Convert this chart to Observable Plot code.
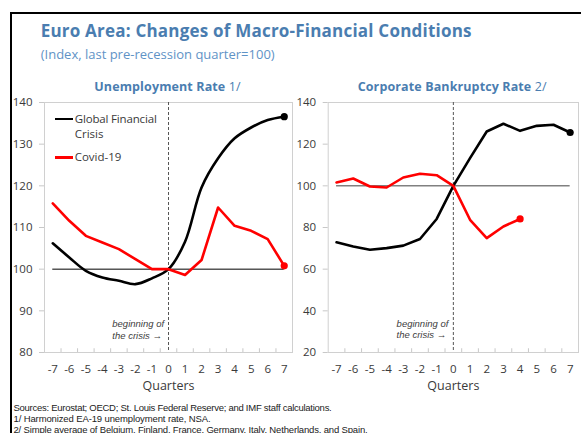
<!DOCTYPE html>
<html><head><meta charset="utf-8">
<script src="https://cdn.jsdelivr.net/npm/d3@7"></script>
<script src="https://cdn.jsdelivr.net/npm/@observablehq/plot@0.6"></script>
<style>
html,body{margin:0;padding:0;background:#fff;}
#wrap{position:relative;width:581px;height:433px;overflow:hidden;font-family:'Open Sans',sans-serif;background:#fff;}
.t{position:absolute;white-space:nowrap;line-height:1;}
.fn{font-family:'Liberation Sans',Arial,sans-serif;font-size:9.5px;color:#222;left:13.5px;}
#border{position:absolute;left:9.5px;top:11.5px;width:700px;height:600px;border-left:2.5px solid #000;border-top:2.5px solid #000;}
.panel{position:absolute;top:80px;}
.leg{position:absolute;height:2.6px;width:18px;}
</style></head><body>
<div id="wrap">
<div id="border"></div>
<div id="p1" class="panel" style="left:0px"></div>
<div id="p2" class="panel" style="left:285px"></div>
<div class="t" id="title" style="left:40.7px;top:21.9px;font-size:17px;font-weight:700;color:#4a7db0">Euro Area: Changes of Macro-Financial Conditions</div>
<div class="t" id="subtitle" style="left:40.7px;top:47.8px;font-size:13px;color:#5f93c6">(Index, last pre-recession quarter=100)</div>
<div class="t" id="pt1" style="top:80.6px;font-size:12.5px;color:#4a7db0"><b>Unemployment Rate</b> 1/</div>
<div class="t" id="pt2" style="top:80.6px;font-size:12.5px;color:#4a7db0"><b>Corporate Bankruptcy Rate</b> 2/</div>
<div class="leg" style="left:55px;top:117.7px;background:#000"></div>
<div class="t" id="lg1" style="left:74.7px;top:112.8px;font-size:11.5px;color:#3a3a3a">Global Financial</div>
<div class="t" id="lg1b" style="left:74.7px;top:127.8px;font-size:11.5px;color:#3a3a3a">Crisis</div>
<div class="leg" style="left:55px;top:156px;background:#ff0000"></div>
<div class="t" id="lg2" style="left:74.7px;top:151.3px;font-size:11.5px;color:#3a3a3a">Covid-19</div>
<div class="t fn" id="fn1" style="top:402.7px">Sources: Eurostat; OECD; St. Louis Federal Reserve; and IMF staff calculations.</div>
<div class="t fn" id="fn2" style="top:413.7px">1/ Harmonized EA-19 unemployment rate, NSA.</div>
<div class="t fn" id="fn3" style="top:424.7px">2/ Simple average of Belgium, Finland, France, Germany, Italy, Netherlands, and Spain.</div>
</div>
<script>
// ---- data ----
const quarters = [-7,-6,-5,-4,-3,-2,-1,0,1,2,3,4,5,6,7];
const unempGFC   = [106.2,102.8,99.6,98.0,97.2,96.4,97.8,100,106.6,119.6,126.6,131.4,134.0,135.8,136.6];
const unempCovid = [115.8,111.6,108.0,106.4,104.8,102.4,100,100,98.6,102.2,114.8,110.4,109.2,107.2,100.8];
const bankGFC    = [72.9,70.9,69.3,70.1,71.3,74.5,84.1,100,113.3,126.1,129.8,126.4,128.8,129.3,125.6];
const bankCovid  = [101.6,103.5,99.7,99.2,104.0,105.8,105.1,100,83.7,74.9,80.5,84.1];
const unempTicks = [80,90,100,110,120,130,140];
const bankTicks  = [20,40,60,80,100,120,140];
const annText = "beginning of\nthe crisis →";
const xLabel = "Quarters";

const halfTicks = quarters.slice(0,-1).map(q => q + 0.5);

function panel({gfc, covid, yDomain, yTicks, baseStroke, baseWidth, annY, width, marginLeft, marginRight, tickLen, gfcCurve}) {
  const g = gfc.map((v,i) => ({q: quarters[i], v}));
  const c = covid.map((v,i) => ({q: quarters[i], v}));
  return Plot.plot({
    width, height: 320, marginLeft, marginRight, marginTop: 22, marginBottom: 48,
    style: {fontFamily: "'Open Sans',sans-serif", fontSize: "11.5px", color: "#3a3a3a", background: "transparent", overflow: "visible"},
    x: {domain: [-7.5, 7.5]},
    y: {domain: yDomain},
    marks: [
      Plot.frame({stroke: "#d0d0d0"}),
      Plot.axisY({ticks: yTicks, tickSize: 5, tickPadding: 7, stroke: "#c8c8c8", fill: "#3a3a3a", label: null}),
      Plot.axisX({ticks: quarters, tickSize: 0, tickPadding: 12, label: null, tickFormat: d => String(d), fill: "#3a3a3a"}),
      Plot.ruleX(halfTicks, {x: d => d, y1: () => yDomain[0], y2: () => yDomain[0] + tickLen, stroke: "#c8c8c8"}),
      Plot.ruleY([100], {x1: () => quarters[0], x2: () => quarters[quarters.length-1], stroke: baseStroke, strokeWidth: baseWidth}),
      Plot.ruleX([0], {stroke: "#555", strokeDasharray: "3,2"}),
      Plot.text([annText], {x: () => -3.4, y: () => annY, text: d => d, textAnchor: "start", lineAnchor: "middle", lineHeight: 1.2, fontStyle: "italic", fontSize: 9.5, fontFamily: "'Liberation Sans',Arial,sans-serif", fill: "#404040"}),
      Plot.line(g, {x: "q", y: "v", stroke: "#000", strokeWidth: 2.6, curve: gfcCurve}),
      Plot.line(c, {x: "q", y: "v", stroke: "#ff0000", strokeWidth: 2.6}),
      Plot.dot([g[g.length-1]], {x: "q", y: "v", fill: "#000", r: 3.6}),
      Plot.dot([c[c.length-1]], {x: "q", y: "v", fill: "#ff0000", r: 3.6}),
      Plot.text([xLabel], {text: d => d, frameAnchor: "bottom", dy: 37, fontSize: 12.5, fill: "#3a3a3a"})
    ]
  });
}

document.getElementById("p1").appendChild(panel({
  gfc: unempGFC, covid: unempCovid, yDomain: [80, 140], yTicks: unempTicks,
  baseStroke: "#000", baseWidth: 1, annY: 85.6, width: 300, marginLeft: 44, marginRight: 8, tickLen: 0.9, gfcCurve: "catmull-rom"
}));
document.getElementById("p2").appendChild(panel({
  gfc: bankGFC, covid: bankCovid, yDomain: [20, 140], yTicks: bankTicks,
  baseStroke: "#808080", baseWidth: 1.5, annY: 31.3, width: 296, marginLeft: 42.7, marginRight: 3, tickLen: 1.8, gfcCurve: "linear"
}));

function fit(id, target, center) {
  const el = document.getElementById(id);
  const n = el.textContent.length;
  el.style.letterSpacing = "0px";
  const w = el.getBoundingClientRect().width;
  el.style.letterSpacing = ((target - w) / n) + "px";
  if (center != null) el.style.left = (center - target / 2) + "px";
}
function fitAll() {
  fit("title", 431);
  fit("subtitle", 234);
  fit("pt1", 146.4, 167.5);
  fit("pt2", 189, 452.2);
  fit("lg1", 82);
  fit("fn1", 318);
  fit("fn2", 197);
  fit("fn3", 354);
}
fitAll();
if (document.fonts && document.fonts.ready) document.fonts.ready.then(fitAll);
</script>
</body></html>
